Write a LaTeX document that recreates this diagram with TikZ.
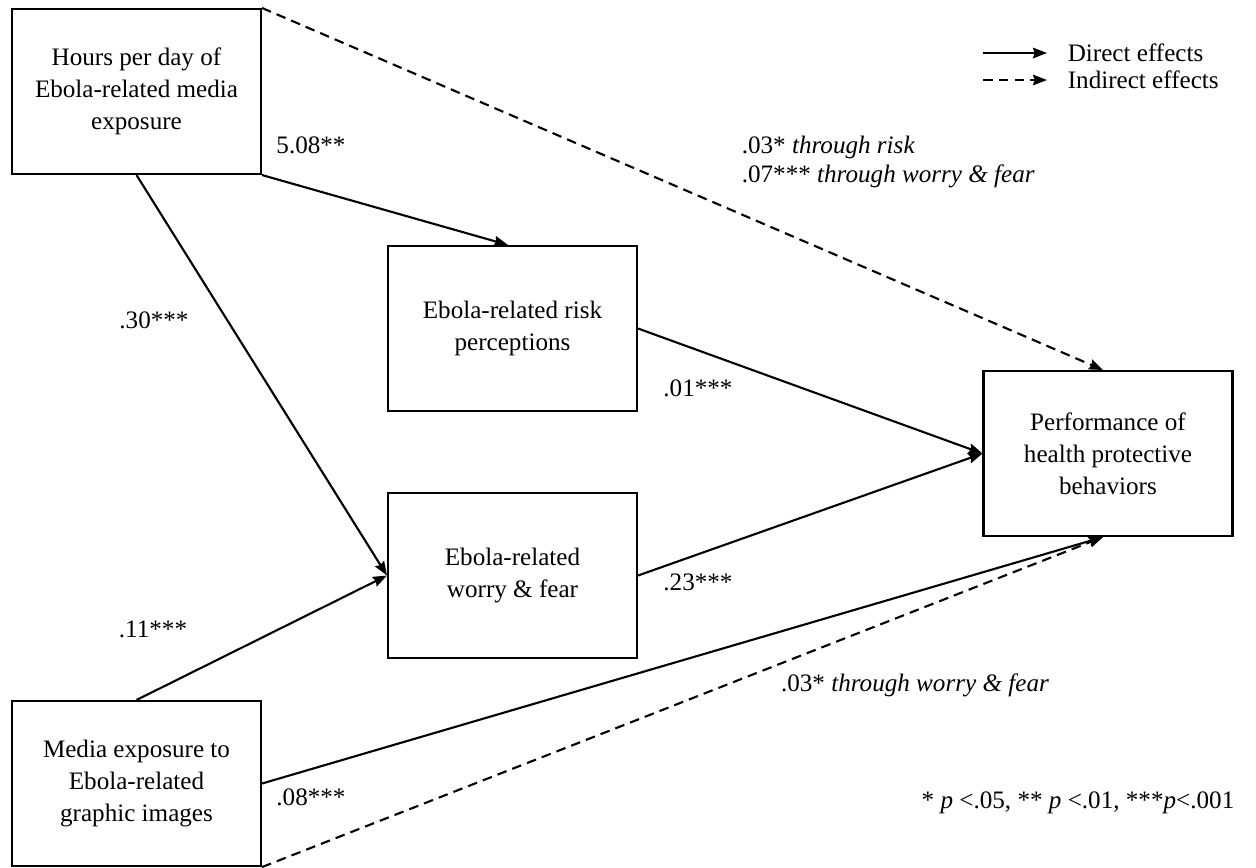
\documentclass[tikz,border=0pt]{standalone}
\usepackage{fontspec}
\setmainfont{Liberation Serif}
\usetikzlibrary{positioning, arrows.meta}

\begin{document}
\begin{tikzpicture}[>={Stealth[length=8pt, width=6pt, inset=1pt]}, x=0.02cm, y=-0.02cm,
        line width=1.2pt,
        every node/.style={font=\fontsize{14.3}{18.2}\selectfont},
        box/.style={draw, rectangle, align=center, minimum width=4.98cm, minimum height=3.3cm},
        lbl/.style={inner sep=1pt},
        indirect/.style={dash pattern=on 5.5pt off 3.5pt}]
            \useasboundingbox (0, 0) rectangle (1256, 867);

            % Nodes
            \node[box] at (136.5, 91.5) (hours) {Hours per day of\\Ebola-related media\\exposure};
            \node[box] at (512.5, 328.5) (risk) {Ebola-related risk\\perceptions};
            \node[box] at (512.5, 575.5) (worry) {Ebola-related\\worry \& fear};
            \node[box] at (136.5, 783.5) (media) {Media exposure to\\Ebola-related\\graphic images};
            \node[box] at (1108, 453.5) (perf) {Performance of\\health protective\\behaviors};

            % Direct effects
            \draw[->] (hours.south east) -- ([xshift=-0.09cm]risk.north);
            \draw[->] (hours.south) -- (worry.west);
            \draw[->] (media.north) -- (worry.west);
            \draw[->] (risk.east) -- (perf.west);
            \draw[->] (worry.east) -- (perf.west);
            \draw[->] (media.east) -- ([xshift=-0.1cm]perf.south);

            % Indirect effects
            \draw[->, indirect] (hours.north east) -- ([xshift=-0.1cm]perf.north);
            \draw[->, indirect] (media.south east) -- ([xshift=-0.1cm]perf.south);

            % Coefficients
            \node[lbl] at (311, 145) (c1) {5.08**};
            \node[lbl] at (154, 320) (c2) {.30***};
            \node[lbl] at (153, 629) (c3) {.11***};
            \node[lbl] at (311, 797) (c4) {.08***};
            \node[lbl] at (698, 388) (c5) {.01***};
            \node[lbl] at (698, 582) (c6) {.23***};
            \node[lbl, anchor=west, align=left, font=\fontsize{14.3}{17}\selectfont] at (739, 162) (c7)
                {.03* \textit{through risk}\\.07*** \textit{through worry \& fear}};
            \node[lbl] at (915, 685) (c8) {.03* \textit{through worry \& fear}};
            \node[lbl] at (1078, 803) (note) {* \textit{p} <.05, ** \textit{p} <.01, ***\textit{p}<.001};

            % Legend
            \coordinate (dA) at (983, 53);
            \coordinate (dB) at (1047, 53);
            \coordinate (iA) at (983, 80);
            \coordinate (iB) at (1047, 80);
            \draw[->] (dA) -- (dB);
            \draw[->, indirect] (iA) -- (iB);
            \node[lbl, anchor=west] at (1065, 53) (ldir) {Direct effects};
            \node[lbl, anchor=west] at (1065, 80) (lind) {Indirect effects};
        \end{tikzpicture}
\end{document}
